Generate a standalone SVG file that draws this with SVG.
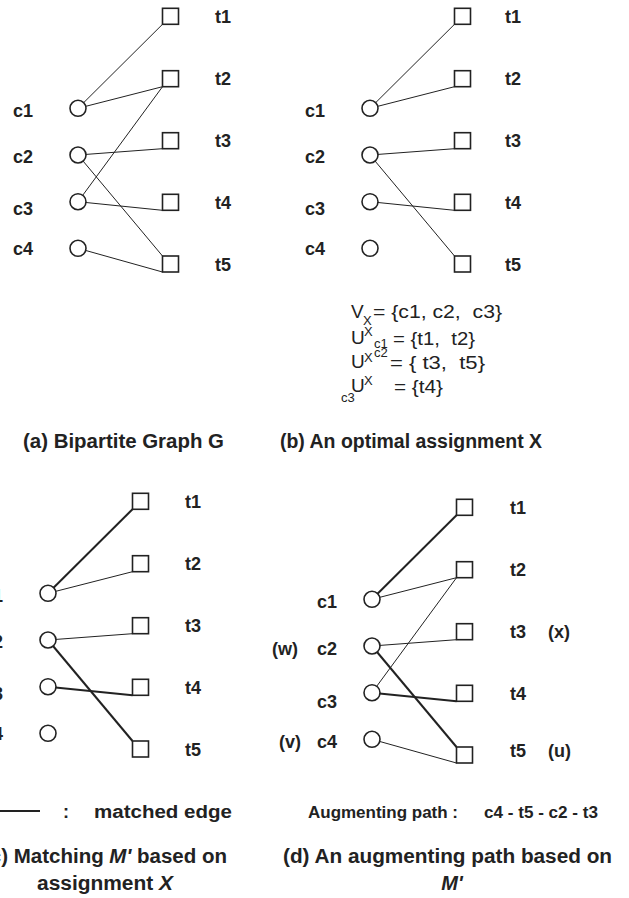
<svg xmlns="http://www.w3.org/2000/svg" width="629" height="898" viewBox="0 0 629 898">
<style>
  text { font-family: "Liberation Sans", Arial, sans-serif; fill: #222; }
  .lbl { font-size: 18px; font-weight: bold; }
  .cap { font-size: 20px; font-weight: bold; }
  .eq { font-size: 19px; white-space: pre; }
  .sm { font-size: 13px; }
  .it { font-style: italic; }
  .c { fill: #fff; stroke: #222; stroke-width: 1.6; }
  .s { fill: #fff; stroke: #222; stroke-width: 1.6; }
  .e { stroke: #222; stroke-width: 1; fill: none; }
  .m { stroke: #222; stroke-width: 2; fill: none; }
</style>
<defs>
  <circle id="cn" r="8" class="c"/>
  <rect id="sq" width="16" height="16" class="s"/>
</defs>

<g id="connectors">
  <g id="conn-a">
    <line class="e" x1="78" y1="108.3" x2="162.5" y2="24.3"/>
    <line class="e" x1="78" y1="108.3" x2="162.5" y2="86.7"/>
    <line class="e" x1="78" y1="155" x2="162.5" y2="148.7"/>
    <line class="e" x1="78" y1="155" x2="162.5" y2="256"/>
    <line class="e" x1="78" y1="201.7" x2="162.5" y2="86.7"/>
    <line class="e" x1="78" y1="201.7" x2="162.5" y2="210.3"/>
    <line class="e" x1="78" y1="248.3" x2="162.5" y2="272"/>
  </g>
  <g id="conn-b" transform="translate(292,0)">
    <line class="e" x1="78" y1="108.3" x2="162.5" y2="24.3"/>
    <line class="e" x1="78" y1="108.3" x2="162.5" y2="86.7"/>
    <line class="e" x1="78" y1="155" x2="162.5" y2="148.7"/>
    <line class="e" x1="78" y1="155" x2="162.5" y2="256"/>
    <line class="e" x1="78" y1="201.7" x2="162.5" y2="210.3"/>
  </g>
  <g id="conn-c" transform="translate(-30,485)">
    <line class="m" x1="78" y1="108.3" x2="162.5" y2="24.3"/>
    <line class="e" x1="78" y1="108.3" x2="162.5" y2="86.7"/>
    <line class="e" x1="78" y1="155" x2="162.5" y2="148.7"/>
    <line class="m" x1="78" y1="155" x2="162.5" y2="256"/>
    <line class="m" x1="78" y1="201.7" x2="162.5" y2="210.3"/>
  </g>
  <g id="conn-d" transform="translate(294,491)">
    <line class="m" x1="78" y1="108.3" x2="162.5" y2="24.3"/>
    <line class="e" x1="78" y1="108.3" x2="162.5" y2="86.7"/>
    <line class="e" x1="78" y1="155" x2="162.5" y2="148.7"/>
    <line class="m" x1="78" y1="155" x2="162.5" y2="256"/>
    <line class="e" x1="78" y1="201.7" x2="162.5" y2="86.7"/>
    <line class="m" x1="78" y1="201.7" x2="162.5" y2="210.3"/>
    <line class="e" x1="78" y1="248.3" x2="162.5" y2="272"/>
  </g>
  <line id="legend-line" class="m" x1="0" y1="811" x2="40" y2="811"/>
</g>

<!-- Panel (a) -->
<g id="panel-a">
  <g id="a-c1"><use href="#cn" x="78" y="108.3"/><text class="lbl" x="13" y="117">c1</text></g>
  <g id="a-c2"><use href="#cn" x="78" y="155"/><text class="lbl" x="13" y="163">c2</text></g>
  <g id="a-c3"><use href="#cn" x="78" y="201.7"/><text class="lbl" x="13" y="215">c3</text></g>
  <g id="a-c4"><use href="#cn" x="78" y="248.3"/><text class="lbl" x="13" y="255">c4</text></g>
  <g id="a-t1"><use href="#sq" x="162.5" y="8.3"/><text class="lbl" x="215" y="23">t1</text></g>
  <g id="a-t2"><use href="#sq" x="162.5" y="70.7"/><text class="lbl" x="215" y="85">t2</text></g>
  <g id="a-t3"><use href="#sq" x="162.5" y="132.7"/><text class="lbl" x="215" y="147">t3</text></g>
  <g id="a-t4"><use href="#sq" x="162.5" y="194.3"/><text class="lbl" x="215" y="209">t4</text></g>
  <g id="a-t5"><use href="#sq" x="162.5" y="256"/><text class="lbl" x="215" y="271">t5</text></g>
</g>

<!-- Panel (b) -->
<g id="panel-b" transform="translate(292,0)">
  <g id="b-c1"><use href="#cn" x="78" y="108.3"/><text class="lbl" x="13" y="117">c1</text></g>
  <g id="b-c2"><use href="#cn" x="78" y="155"/><text class="lbl" x="13" y="163">c2</text></g>
  <g id="b-c3"><use href="#cn" x="78" y="201.7"/><text class="lbl" x="13" y="215">c3</text></g>
  <g id="b-c4"><use href="#cn" x="78" y="248.3"/><text class="lbl" x="13" y="255">c4</text></g>
  <g id="b-t1"><use href="#sq" x="162.5" y="8.3"/><text class="lbl" x="213" y="23">t1</text></g>
  <g id="b-t2"><use href="#sq" x="162.5" y="70.7"/><text class="lbl" x="213" y="85">t2</text></g>
  <g id="b-t3"><use href="#sq" x="162.5" y="132.7"/><text class="lbl" x="213" y="147">t3</text></g>
  <g id="b-t4"><use href="#sq" x="162.5" y="194.3"/><text class="lbl" x="213" y="209">t4</text></g>
  <g id="b-t5"><use href="#sq" x="162.5" y="256"/><text class="lbl" x="213" y="271">t5</text></g>
</g>

<!-- Assignment text -->
<g id="assignment-text">
  <text class="eq" x="351" y="318">V</text>
  <text class="sm" x="363" y="325">X</text>
  <text class="eq" x="373" y="318" textLength="129" lengthAdjust="spacingAndGlyphs">= {c1, c2,  c3}</text>

  <text class="eq" x="351" y="344">U</text>
  <text class="sm" x="364" y="336">X</text>
  <text class="sm" x="374" y="348">c1</text>
  <text class="eq" x="393" y="345" textLength="82" lengthAdjust="spacingAndGlyphs">= {t1,  t2}</text>

  <text class="eq" x="351" y="368">U</text>
  <text class="sm" x="364" y="362">X</text>
  <text class="sm" x="374" y="357">c2</text>
  <text class="eq" x="390" y="369" textLength="95" lengthAdjust="spacingAndGlyphs">= { t3,  t5}</text>

  <text class="sm" x="341" y="402">c3</text>
  <text class="eq" x="351" y="392">U</text>
  <text class="sm" x="364" y="385">X</text>
  <text class="eq" x="394" y="393" textLength="49" lengthAdjust="spacingAndGlyphs">= {t4}</text>
</g>

<text class="cap" x="123.5" y="448" text-anchor="middle" textLength="201" lengthAdjust="spacingAndGlyphs">(a) Bipartite Graph G</text>
<text class="cap" x="411" y="448" text-anchor="middle" textLength="262" lengthAdjust="spacingAndGlyphs">(b) An optimal assignment X</text>

<!-- Panel (c) -->
<g id="panel-c" transform="translate(-30,485)">
  <g id="c-c1"><use href="#cn" x="78" y="108.3"/><text class="lbl" x="13" y="117">c1</text></g>
  <g id="c-c2"><use href="#cn" x="78" y="155"/><text class="lbl" x="13" y="163">c2</text></g>
  <g id="c-c3"><use href="#cn" x="78" y="201.7"/><text class="lbl" x="13" y="215">c3</text></g>
  <g id="c-c4"><use href="#cn" x="78" y="248.3"/><text class="lbl" x="13" y="255">c4</text></g>
  <g id="c-t1"><use href="#sq" x="162.5" y="8.3"/><text class="lbl" x="215" y="23">t1</text></g>
  <g id="c-t2"><use href="#sq" x="162.5" y="70.7"/><text class="lbl" x="215" y="85">t2</text></g>
  <g id="c-t3"><use href="#sq" x="162.5" y="132.7"/><text class="lbl" x="215" y="147">t3</text></g>
  <g id="c-t4"><use href="#sq" x="162.5" y="194.3"/><text class="lbl" x="215" y="209">t4</text></g>
  <g id="c-t5"><use href="#sq" x="162.5" y="256"/><text class="lbl" x="215" y="271">t5</text></g>
</g>

<!-- Panel (d) -->
<g id="panel-d" transform="translate(294,491)">
  <g id="d-c1"><use href="#cn" x="78" y="108.3"/><text class="lbl" x="23" y="117">c1</text></g>
  <g id="d-c2"><use href="#cn" x="78" y="155"/><text class="lbl" x="23" y="164">c2</text><text class="lbl" x="-22" y="164">(w)</text></g>
  <g id="d-c3"><use href="#cn" x="78" y="201.7"/><text class="lbl" x="23" y="217">c3</text></g>
  <g id="d-c4"><use href="#cn" x="78" y="248.3"/><text class="lbl" x="23" y="257">c4</text><text class="lbl" x="-15" y="257">(v)</text></g>
  <g id="d-t1"><use href="#sq" x="162.5" y="8.3"/><text class="lbl" x="216" y="23">t1</text></g>
  <g id="d-t2"><use href="#sq" x="162.5" y="70.7"/><text class="lbl" x="216" y="85">t2</text></g>
  <g id="d-t3"><use href="#sq" x="162.5" y="132.7"/><text class="lbl" x="216" y="147">t3</text><text class="lbl" x="254" y="147">(x)</text></g>
  <g id="d-t4"><use href="#sq" x="162.5" y="194.3"/><text class="lbl" x="216" y="209">t4</text></g>
  <g id="d-t5"><use href="#sq" x="162.5" y="256"/><text class="lbl" x="216" y="266">t5</text><text class="lbl" x="254" y="266">(u)</text></g>
</g>

<!-- Legend and captions bottom -->
<g id="legend">
  <text class="lbl" x="63" y="818">:</text>
  <text class="lbl" x="94" y="818" font-size="19" textLength="138" lengthAdjust="spacingAndGlyphs">matched edge</text>
</g>
<text class="cap" x="227" y="863" text-anchor="end" textLength="244" lengthAdjust="spacingAndGlyphs">(c) Matching <tspan class="it">M'</tspan> based on</text>
<text class="cap" x="105" y="890" text-anchor="middle" textLength="136" lengthAdjust="spacingAndGlyphs">assignment <tspan class="it">X</tspan></text>

<g id="augmenting">
  <text x="308" y="818" font-size="16" font-weight="bold" textLength="150" lengthAdjust="spacingAndGlyphs">Augmenting path :</text>
  <text x="484" y="818" font-size="16" font-weight="bold" textLength="114" lengthAdjust="spacingAndGlyphs">c4 - t5 - c2 - t3</text>
</g>
<text class="cap" x="447.5" y="863" text-anchor="middle" textLength="329" lengthAdjust="spacingAndGlyphs">(d) An augmenting path based on</text>
<text class="cap it" x="452" y="890" text-anchor="middle">M'</text>
</svg>
